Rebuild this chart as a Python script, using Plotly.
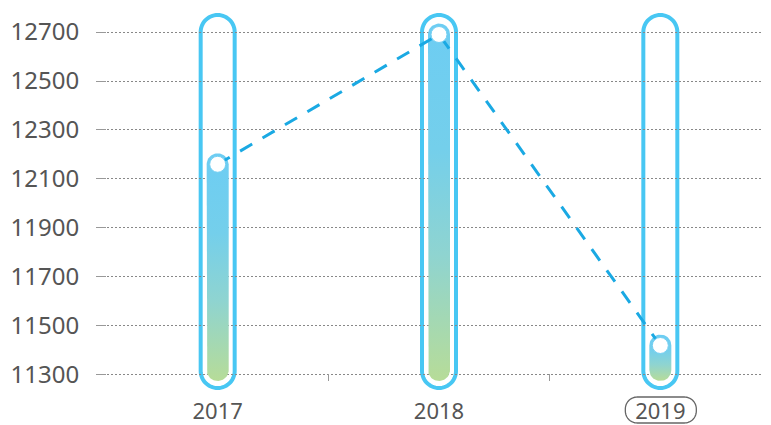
import numpy as np
import plotly.graph_objects as go

# ---- data ----
years = ["2017", "2018", "2019"]
values = [12160, 12690, 11420]
y_ticks = [11300, 11500, 11700, 11900, 12100, 12300, 12500, 12700]
y_tick_text = ["11300", "11500", "11700", "11900", "12100", "12300", "12500", "12700"]
selected_year = "2019"

# ---- layout geometry (page body has an 8px margin) ----
PAGE_OFF = 8
W, H = 771 - PAGE_OFF, 425 - PAGE_OFF
ML, MR, MT, MB = 107 - PAGE_OFF, 0, 10 - PAGE_OFF, 44
PW, PH = W - ML - MR, H - MT - MB
Y_RANGE = [11275, 12790]
X_RANGE = [-0.5, len(years) - 0.5]
kx = PW / (X_RANGE[1] - X_RANGE[0])   # px per x unit
ky = PH / (Y_RANGE[1] - Y_RANGE[0])   # px per y unit

BAR_R = 11      # inner bar radius px
CAP_R = 17      # outer capsule radius px


def rounded_poly(x0, x1, y0, y1, r, n=16):
    """Closed rounded-rectangle path (pixel offsets, y up) using only line segments."""
    pts = []
    corners = [(x1 - r, y1 - r, 0), (x0 + r, y1 - r, 90),
               (x0 + r, y0 + r, 180), (x1 - r, y0 + r, 270)]
    for cx, cy, a0 in corners:
        for a in np.linspace(np.radians(a0), np.radians(a0 + 90), n):
            pts.append((cx + r * np.cos(a), cy + r * np.sin(a)))
    return "M " + " L ".join(f"{px:.2f},{py:.2f}" for px, py in pts) + " Z"


fig = go.Figure()

# inner gradient bars (capsule shaped)
for i, v in enumerate(values):
    dx = BAR_R / kx
    dy = BAR_R / ky
    y_bot_c = Y_RANGE[0] + dy
    t_top = np.linspace(0, np.pi, 30)
    t_bot = np.linspace(np.pi, 2 * np.pi, 30)
    xs = list(i + dx * np.cos(t_top)) + list(i + dx * np.cos(t_bot))
    ys = list(v + dy * np.sin(t_top)) + list(y_bot_c + dy * np.sin(t_bot))
    xs.append(xs[0]); ys.append(ys[0])
    fig.add_trace(go.Scatter(
        x=xs, y=ys, mode="lines", fill="toself",
        line=dict(width=0, color="rgba(0,0,0,0)"),
        fillgradient=dict(type="vertical",
                          colorscale=[[0, "#b7dc98"], [0.35, "#8fd4d0"],
                                      [0.65, "#74cfeb"], [1, "#6dcdf3"]]),
        hoverinfo="skip", showlegend=False))

# dashed connecting line
fig.add_trace(go.Scatter(
    x=list(range(len(years))), y=values, mode="lines",
    line=dict(color="#1aa9e3", width=3, dash="14px,12px"),
    hoverinfo="skip", showlegend=False))

# white point markers
fig.add_trace(go.Scatter(
    x=list(range(len(years))), y=values, mode="markers",
    marker=dict(size=16, color="white", line=dict(color="#74cff2", width=1)),
    showlegend=False))

shapes = []
# outer capsule frames (decorative, pixel geometry anchored to plot bottom)
for i in range(len(years)):
    shapes.append(dict(type="path", path=rounded_poly(-CAP_R, CAP_R, -7, 366, CAP_R),
                       xref="x", xsizemode="pixel", xanchor=i,
                       yref="paper", ysizemode="pixel", yanchor=0,
                       fillcolor="white", line=dict(color="#48c7f3", width=4),
                       layer="between"))

# rounded frame around selected year label
si = years.index(selected_year)
shapes.append(dict(type="path", path=rounded_poly(-35, 36, -42, -16, 12),
                   xref="x", xsizemode="pixel", xanchor=si,
                   yref="paper", ysizemode="pixel", yanchor=0,
                   line=dict(color="#666", width=1.3), layer="above"))

FONT = "Noto Sans"
fig.update_layout(
    width=W, height=H, margin=dict(l=ML, r=MR, t=MT, b=MB, autoexpand=False),
    plot_bgcolor="white", paper_bgcolor="white",
    shapes=shapes, showlegend=False,
    font=dict(family=FONT, color="#555"),
    xaxis=dict(range=X_RANGE, tickvals=list(range(len(years))), ticktext=years,
               ticks="inside", ticklen=0, showgrid=False, zeroline=False, showline=False,
               automargin=False, tickfont=dict(size=22, color="#555"), ticklabelstandoff=15,
               minor=dict(ticks="inside", tickvals=[k - 0.5 for k in range(len(years) + 1)],
                          ticklen=7, tickcolor="#999", tickwidth=1, showgrid=False)),
    yaxis=dict(range=Y_RANGE, tickvals=y_ticks, ticktext=y_tick_text,
               ticks="outside", ticklen=10, automargin=False,
               tickcolor="#999", tickwidth=1, showgrid=True, gridcolor="#888",
               griddash="2px,2px", gridwidth=1, zeroline=False, showline=False,
               tickfont=dict(size=24, color="#555"), ticklabelstandoff=12),
)

fig.write_html("out.html")
